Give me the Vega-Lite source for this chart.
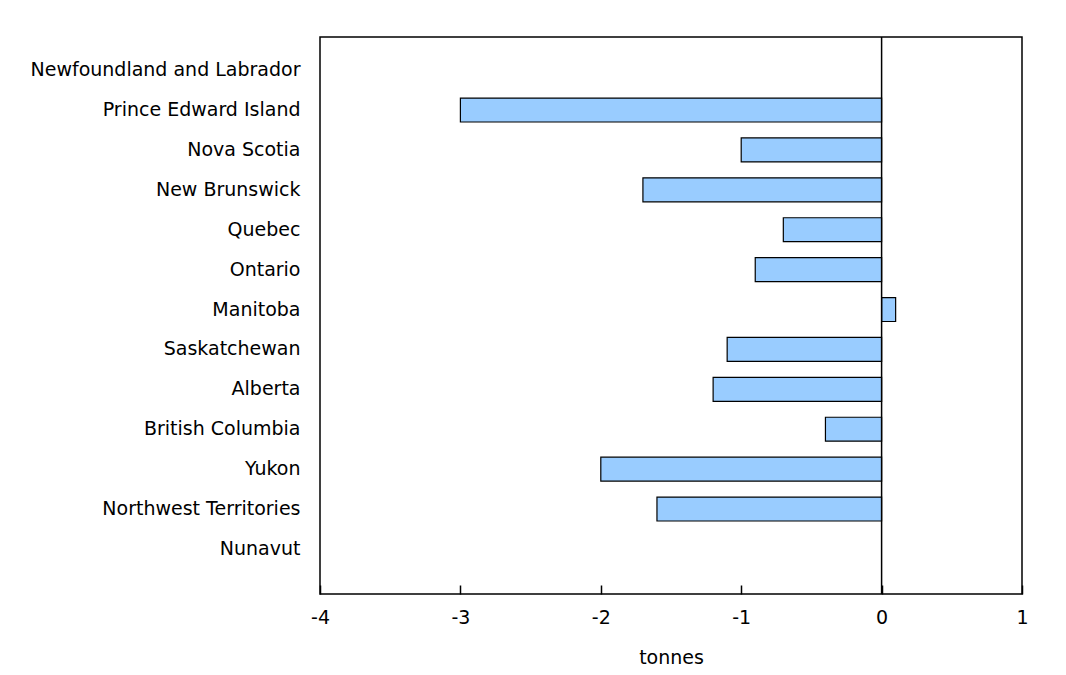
{
  "$schema": "https://vega.github.io/schema/vega-lite/v6.json",
  "autosize": "none",
  "padding": {"left": 320, "top": 37, "right": 44, "bottom": 81},
  "width": 702,
  "height": 557,
  "background": "white",
  "config": {
    "font": "DejaVu Sans",
    "view": {"stroke": "black", "strokeWidth": 1.5},
    "axis": {"labelFont": "DejaVu Sans", "titleFont": "DejaVu Sans", "labelColor": "black", "titleColor": "black"}
  },
  "data": {
    "values": [
      {"region": "Newfoundland and Labrador", "value": null},
      {"region": "Prince Edward Island", "value": -3.0},
      {"region": "Nova Scotia", "value": -1.0},
      {"region": "New Brunswick", "value": -1.7},
      {"region": "Quebec", "value": -0.7},
      {"region": "Ontario", "value": -0.9},
      {"region": "Manitoba", "value": 0.1},
      {"region": "Saskatchewan", "value": -1.1},
      {"region": "Alberta", "value": -1.2},
      {"region": "British Columbia", "value": -0.4},
      {"region": "Yukon", "value": -2.0},
      {"region": "Northwest Territories", "value": -1.6},
      {"region": "Nunavut", "value": null}
    ]
  },
  "layer": [
    {
      "mark": {"type": "bar", "fill": "#99CCFF", "stroke": "black", "strokeWidth": 1.2},
      "encoding": {
        "y": {
          "field": "region", "type": "nominal", "sort": null,
          "scale": {
            "domain": ["Newfoundland and Labrador", "Prince Edward Island", "Nova Scotia", "New Brunswick", "Quebec", "Ontario", "Manitoba", "Saskatchewan", "Alberta", "British Columbia", "Yukon", "Northwest Territories", "Nunavut"],
            "paddingInner": 0.4, "paddingOuter": 0.68, "align": 0.39
          },
          "axis": {"title": null, "ticks": false, "domain": false, "labelFontSize": 19, "labelPadding": 20, "labelLimit": 0, "labelColor": "black"}
        },
        "x": {
          "field": "value", "type": "quantitative",
          "scale": {"domain": [-4, 1], "nice": false, "zero": false},
          "axis": {"title": "tonnes", "titleFontSize": 19, "titleFontWeight": "normal", "titlePadding": 21, "labelFontSize": 19, "values": [-4, -3, -2, -1, 0, 1], "grid": false, "offset": -9, "tickSize": 9, "tickColor": "black", "tickWidth": 1.5, "tickOpacity": 1, "domain": false, "labelPadding": 14, "labelFlush": false, "zindex": 2, "labelExpr": "replace(datum.label, '\u2212', '-')", "format": "d"}
        }
      }
    },
    {
      "mark": {"type": "rule", "color": "black", "strokeWidth": 1.5},
      "data": {"values": [{"zero": 0}]},
      "encoding": {"x": {"field": "zero", "type": "quantitative"}}
    }
  ]
}
